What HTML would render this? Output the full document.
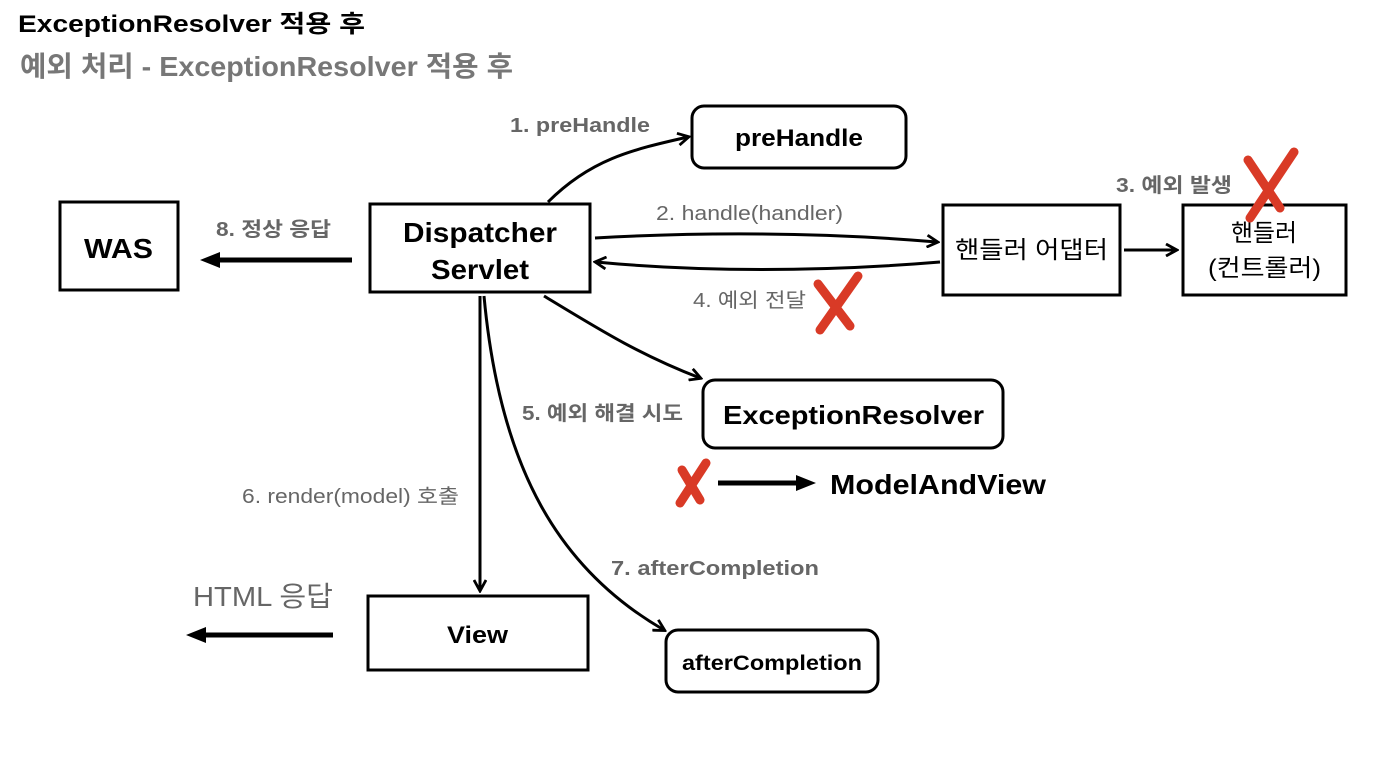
<!DOCTYPE html>
<html><head><meta charset="utf-8"><style>
html,body{margin:0;padding:0;background:#fff;}
svg{display:block;font-family:"Liberation Sans","Noto Sans CJK KR",sans-serif;}
</style></head><body>
<svg width="1380" height="764" viewBox="0 0 1380 764" xmlns="http://www.w3.org/2000/svg">
<defs>
<marker id="ah" markerWidth="14" markerHeight="14" refX="11" refY="7" orient="auto" markerUnits="userSpaceOnUse">
<path d="M1,1 L12,7 L1,13" fill="none" stroke="#000" stroke-width="2.8"/>
</marker>
<marker id="tri" markerWidth="20" markerHeight="20" refX="2" refY="10" orient="auto" markerUnits="userSpaceOnUse">
<path d="M0,2 L20,10 L0,18 Z" fill="#000"/>
</marker>
</defs>
<text x="18" y="32" font-size="24" font-weight="bold" fill="#000" textLength="347" lengthAdjust="spacingAndGlyphs">ExceptionResolver 적용 후</text>
<text x="20" y="76" font-size="28" font-weight="bold" fill="#777" textLength="493" lengthAdjust="spacingAndGlyphs">예외 처리 - ExceptionResolver 적용 후</text>

<g fill="none" stroke="#000" stroke-width="3">
<rect x="60" y="202" width="118" height="88"/>
<rect x="370" y="204" width="220" height="88"/>
<rect x="692" y="106" width="214" height="62" rx="12"/>
<rect x="943" y="205" width="177" height="90"/>
<rect x="1183" y="205" width="163" height="90"/>
<rect x="703" y="380" width="300" height="68" rx="12"/>
<rect x="368" y="596" width="220" height="74"/>
<rect x="666" y="630" width="212" height="62" rx="12"/>
</g>

<g font-weight="bold" fill="#000" lengthAdjust="spacingAndGlyphs">
<text x="84" y="258" font-size="28" textLength="69" lengthAdjust="spacingAndGlyphs">WAS</text>
<text x="403" y="242" font-size="28" textLength="154" lengthAdjust="spacingAndGlyphs">Dispatcher</text>
<text x="431" y="279" font-size="28" textLength="98" lengthAdjust="spacingAndGlyphs">Servlet</text>
<text x="735" y="146" font-size="24" textLength="128" lengthAdjust="spacingAndGlyphs">preHandle</text>
<text x="723" y="424" font-size="26" textLength="261" lengthAdjust="spacingAndGlyphs">ExceptionResolver</text>
<text x="447" y="643" font-size="24" textLength="61" lengthAdjust="spacingAndGlyphs">View</text>
<text x="682" y="670" font-size="21" textLength="180" lengthAdjust="spacingAndGlyphs">afterCompletion</text>
<text x="830" y="494" font-size="28" textLength="216" lengthAdjust="spacingAndGlyphs">ModelAndView</text>
</g>
<g fill="#000" font-size="24">
<text x="955" y="258" textLength="153" lengthAdjust="spacingAndGlyphs">핸들러 어댑터</text>
<text x="1231" y="241" textLength="66" lengthAdjust="spacingAndGlyphs">핸들러</text>
<text x="1208" y="276" textLength="113" lengthAdjust="spacingAndGlyphs">(컨트롤러)</text>
</g>

<g font-size="20" fill="#666">
<text x="510" y="132" font-weight="bold" textLength="140" lengthAdjust="spacingAndGlyphs">1. preHandle</text>
<text x="656" y="220" textLength="187" lengthAdjust="spacingAndGlyphs">2. handle(handler)</text>
<text x="1116" y="192" font-weight="bold" textLength="116" lengthAdjust="spacingAndGlyphs">3. 예외 발생</text>
<text x="693" y="307" textLength="113" lengthAdjust="spacingAndGlyphs">4. 예외 전달</text>
<text x="522" y="420" font-weight="bold" textLength="161" lengthAdjust="spacingAndGlyphs">5. 예외 해결 시도</text>
<text x="242" y="503" textLength="217" lengthAdjust="spacingAndGlyphs">6. render(model) 호출</text>
<text x="611" y="575" font-weight="bold" textLength="208" lengthAdjust="spacingAndGlyphs">7. afterCompletion</text>
<text x="216" y="236" font-weight="bold" textLength="115" lengthAdjust="spacingAndGlyphs">8. 정상 응답</text>
<text x="193" y="606" font-size="28" textLength="140" lengthAdjust="spacingAndGlyphs">HTML 응답</text>
</g>

<g fill="none" stroke="#000" stroke-width="3">
<path d="M548,202 C590,160 630,150 688,137" marker-end="url(#ah)"/>
<path d="M595,238 C700,232 820,232 937,242" marker-end="url(#ah)"/>
<path d="M940,262 C820,272 700,272 596,262" marker-end="url(#ah)"/>
<path d="M1124,250 L1176,250" marker-end="url(#ah)"/>
<path d="M544,296 C600,330 640,355 700,378" marker-end="url(#ah)"/>
<path d="M480,296 L480,590" marker-end="url(#ah)"/>
<path d="M484,296 C500,470 560,570 664,630" marker-end="url(#ah)"/>
</g>
<g stroke="#000" stroke-width="5">
<line x1="352" y1="260" x2="218" y2="260" marker-end="url(#tri)"/>
<line x1="333" y1="635" x2="204" y2="635" marker-end="url(#tri)"/>
<line x1="718" y1="483" x2="798" y2="483" marker-end="url(#tri)"/>
</g>

<g stroke="#d93a26" stroke-width="9" stroke-linecap="round">
<line x1="1248" y1="160" x2="1280" y2="208"/>
<line x1="1294" y1="152" x2="1250" y2="218"/>
<line x1="818" y1="284" x2="850" y2="326"/>
<line x1="858" y1="276" x2="820" y2="330"/>
<line x1="682" y1="470" x2="700" y2="500"/>
<line x1="706" y1="463" x2="680" y2="503"/>
</g>
</svg>
</body></html>
